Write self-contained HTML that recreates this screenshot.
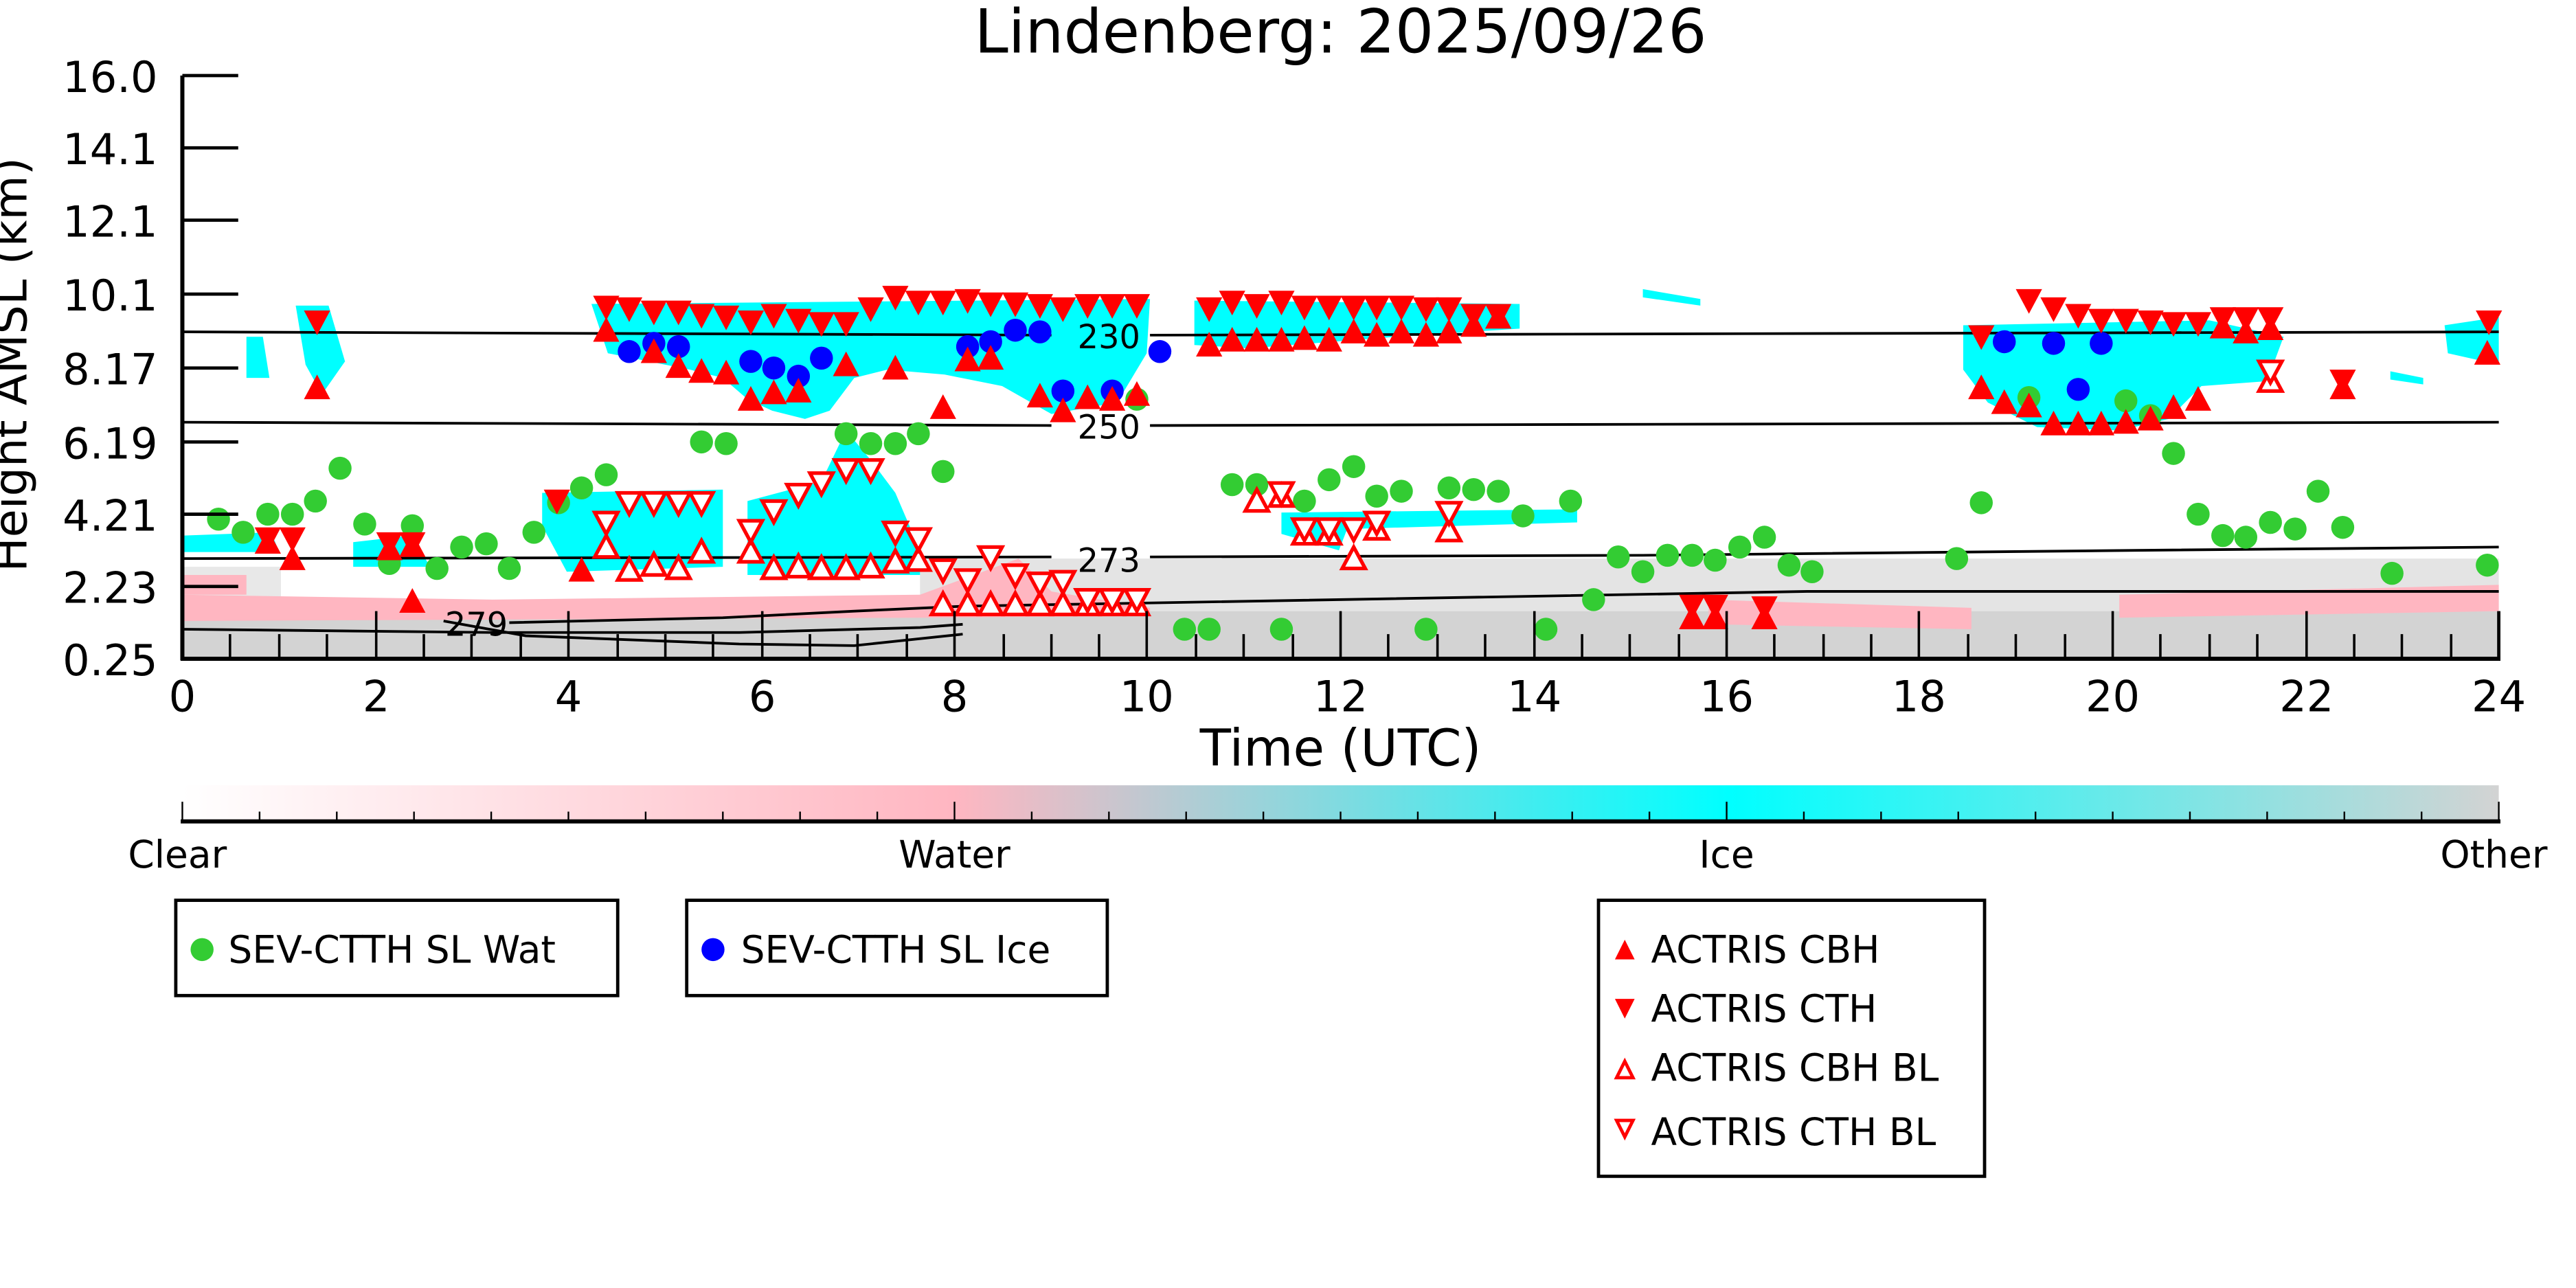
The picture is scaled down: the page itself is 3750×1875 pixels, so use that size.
<!DOCTYPE html>
<html><head><meta charset="utf-8"><style>html,body{margin:0;padding:0;background:#fff}svg{display:block}</style></head>
<body>
<svg width="3750" height="1875" viewBox="0 0 1568 784" xmlns="http://www.w3.org/2000/svg" font-family="'DejaVu Sans','Liberation Sans',sans-serif">
<defs>
<circle id="g" r="7" fill="#33cc33"/>
<circle id="b" r="7" fill="#0000ff"/>
<path id="d" d="M-8,-7 L8,-7 L0,8 Z" fill="#ff0000"/>
<path id="u" d="M-8,7 L8,7 L0,-8 Z" fill="#ff0000"/>
<path id="od" d="M-7,-6 L7,-6 L0,7 Z" fill="#fff" stroke="#ff0000" stroke-width="2.2"/>
<path id="ou" d="M-7,6 L7,6 L0,-7 Z" fill="#fff" stroke="#ff0000" stroke-width="2.2"/>
<linearGradient id="cb" x1="0" x2="1" y1="0" y2="0">
<stop offset="0" stop-color="#ffffff"/><stop offset="0.333" stop-color="#ffb6c1"/><stop offset="0.667" stop-color="#00ffff"/><stop offset="1" stop-color="#d3d3d3"/>
</linearGradient>
</defs>
<text x="816" y="32" font-size="37" text-anchor="middle">Lindenberg: 2025/09/26</text>

<!-- background fields -->
<rect x="560" y="340" width="961" height="32" fill="#e4e4e4"/>
<rect x="111" y="345" width="60" height="27" fill="#e8e8e8"/>
<rect x="111" y="372" width="1410" height="29" fill="#d3d3d3"/>
<polygon points="111,362 300,365 560,362 620,340 640,360 700,370 700,375 560,376 111,378" fill="#ffb6c1"/>
<polygon points="1040,365 1200,370 1200,383 1040,380" fill="#ffb6c1"/>
<polygon points="1290,362 1521,356 1521,372 1290,376" fill="#ffb6c1"/>
<polygon points="111,350 150,350 150,362 111,362" fill="#ffb6c1"/>

<!-- cyan -->
<g fill="#00ffff">
<polygon points="360,185 700,182 698,215 680,245 640,252 610,235 575,228 540,225 520,230 505,250 490,255 470,250 455,243 440,230 420,225 395,220 370,215"/>
<polygon points="727,183 925,185 925,200 850,205 760,212 727,210"/>
<polygon points="1195,198 1345,195 1390,205 1380,232 1340,235 1320,255 1290,262 1240,260 1210,245 1195,225"/>
<polygon points="1488,198 1521,193 1521,222 1490,215"/>
<polygon points="330,300 440,298 440,345 345,348 330,320"/>
<polygon points="455,305 500,293 515,262 530,280 545,300 560,335 560,350 455,350"/>
<polygon points="112,326 165,324 170,336 112,336"/>
<polygon points="180,186 200,186 210,220 196,240 186,222"/>
<polygon points="150,205 160,205 164,230 150,230"/>
<polygon points="780,312 960,310 960,318 820,322 815,335 780,325"/>
<polygon points="215,330 250,326 262,345 215,345"/>
<polygon points="1000,176 1035,182 1035,186 1000,181"/>
<polygon points="1455,226 1475,230 1475,234 1455,231"/>
</g>

<!-- contours -->
<g fill="none" stroke="#000" stroke-width="1.6">
<polyline points="111,202 640,204"/><polyline points="700,204 1521,202"/>
<polyline points="111,257 640,259"/><polyline points="700,259 1521,257"/>
<polyline points="111,340 640,339"/><polyline points="700,339 1000,338 1300,335 1521,333"/>
<polyline points="586,369 1100,360 1521,360"/>
<polyline points="111,383 300,385 450,385 560,382 586,380"/>
<polyline points="310,379 440,376 520,372 586,369"/>
<polyline points="270,378 320,387 450,392 520,393 586,386"/>
</g>
<g font-size="20" text-anchor="middle">
<text x="675" y="212">230</text><text x="675" y="267">250</text><text x="675" y="348">273</text><text x="290" y="387">279</text>
</g>

<!-- markers -->
<g>
<use href="#g" x="133" y="316"/><use href="#g" x="148" y="324"/><use href="#g" x="163" y="313"/><use href="#g" x="178" y="313"/><use href="#g" x="192" y="305"/><use href="#g" x="207" y="285"/><use href="#g" x="222" y="319"/><use href="#g" x="237" y="343"/><use href="#g" x="251" y="320"/><use href="#g" x="266" y="346"/><use href="#g" x="281" y="333"/><use href="#g" x="296" y="331"/><use href="#g" x="310" y="346"/><use href="#g" x="325" y="324"/><use href="#g" x="340" y="306"/><use href="#g" x="354" y="297"/><use href="#g" x="369" y="289"/><use href="#g" x="427" y="269"/><use href="#g" x="442" y="270"/><use href="#g" x="515" y="264"/><use href="#g" x="530" y="270"/><use href="#g" x="545" y="270"/><use href="#g" x="559" y="264"/><use href="#g" x="574" y="287"/><use href="#g" x="692" y="243"/><use href="#g" x="721" y="383"/><use href="#g" x="736" y="383"/><use href="#g" x="750" y="295"/><use href="#g" x="765" y="295"/><use href="#g" x="780" y="383"/><use href="#g" x="794" y="305"/><use href="#g" x="809" y="292"/><use href="#g" x="824" y="284"/><use href="#g" x="838" y="302"/><use href="#g" x="853" y="299"/><use href="#g" x="868" y="383"/><use href="#g" x="882" y="297"/><use href="#g" x="897" y="298"/><use href="#g" x="912" y="299"/><use href="#g" x="927" y="314"/><use href="#g" x="941" y="383"/><use href="#g" x="956" y="305"/><use href="#g" x="970" y="365"/><use href="#g" x="985" y="339"/><use href="#g" x="1000" y="348"/><use href="#g" x="1015" y="338"/><use href="#g" x="1030" y="338"/><use href="#g" x="1044" y="341"/><use href="#g" x="1059" y="333"/><use href="#g" x="1074" y="327"/><use href="#g" x="1089" y="344"/><use href="#g" x="1103" y="348"/><use href="#g" x="1191" y="340"/><use href="#g" x="1206" y="306"/><use href="#g" x="1235" y="242"/><use href="#g" x="1294" y="244"/><use href="#g" x="1309" y="253"/><use href="#g" x="1323" y="276"/><use href="#g" x="1338" y="313"/><use href="#g" x="1353" y="326"/><use href="#g" x="1367" y="327"/><use href="#g" x="1382" y="318"/><use href="#g" x="1397" y="322"/><use href="#g" x="1411" y="299"/><use href="#g" x="1426" y="321"/><use href="#g" x="1456" y="349"/><use href="#g" x="1514" y="344"/>
<use href="#b" x="383" y="214"/><use href="#b" x="398" y="209"/><use href="#b" x="413" y="211"/><use href="#b" x="457" y="220"/><use href="#b" x="471" y="224"/><use href="#b" x="486" y="229"/><use href="#b" x="500" y="218"/><use href="#b" x="589" y="211"/><use href="#b" x="603" y="208"/><use href="#b" x="618" y="201"/><use href="#b" x="633" y="202"/><use href="#b" x="647" y="238"/><use href="#b" x="677" y="238"/><use href="#b" x="706" y="214"/><use href="#b" x="1220" y="208"/><use href="#b" x="1250" y="209"/><use href="#b" x="1265" y="237"/><use href="#b" x="1279" y="209"/>
<use href="#d" x="193" y="196"/><use href="#d" x="163" y="328"/><use href="#d" x="178" y="328"/><use href="#d" x="237" y="331"/><use href="#d" x="251" y="331"/><use href="#d" x="339" y="305"/>
<use href="#d" x="369" y="187"/><use href="#d" x="383" y="188"/><use href="#d" x="398" y="190"/><use href="#d" x="413" y="190"/><use href="#d" x="427" y="192"/><use href="#d" x="442" y="193"/><use href="#d" x="457" y="196"/><use href="#d" x="471" y="192"/><use href="#d" x="486" y="195"/><use href="#d" x="500" y="197"/><use href="#d" x="515" y="197"/><use href="#d" x="530" y="188"/><use href="#d" x="545" y="181"/><use href="#d" x="559" y="184"/><use href="#d" x="574" y="184"/><use href="#d" x="589" y="183"/><use href="#d" x="603" y="185"/><use href="#d" x="618" y="185"/><use href="#d" x="633" y="186"/><use href="#d" x="647" y="188"/><use href="#d" x="662" y="186"/><use href="#d" x="677" y="186"/><use href="#d" x="692" y="186"/>
<use href="#d" x="736" y="188"/><use href="#d" x="750" y="184"/><use href="#d" x="765" y="186"/><use href="#d" x="780" y="184"/><use href="#d" x="794" y="187"/><use href="#d" x="809" y="187"/><use href="#d" x="824" y="187"/><use href="#d" x="838" y="187"/><use href="#d" x="853" y="187"/><use href="#d" x="868" y="188"/><use href="#d" x="882" y="188"/><use href="#d" x="897" y="192"/><use href="#d" x="912" y="192"/>
<use href="#d" x="1206" y="205"/><use href="#d" x="1235" y="183"/><use href="#d" x="1250" y="188"/><use href="#d" x="1265" y="192"/><use href="#d" x="1279" y="195"/><use href="#d" x="1294" y="195"/><use href="#d" x="1309" y="196"/><use href="#d" x="1323" y="197"/><use href="#d" x="1338" y="197"/><use href="#d" x="1353" y="194"/><use href="#d" x="1367" y="194"/><use href="#d" x="1382" y="194"/><use href="#d" x="1426" y="232"/><use href="#d" x="1515" y="196"/>
<use href="#d" x="1030" y="369"/><use href="#d" x="1044" y="369"/><use href="#d" x="1074" y="370"/>
<use href="#u" x="193" y="236"/><use href="#u" x="163" y="330"/><use href="#u" x="178" y="340"/><use href="#u" x="237" y="334"/><use href="#u" x="251" y="332"/><use href="#u" x="251" y="366"/>
<use href="#u" x="369" y="201"/><use href="#u" x="398" y="214"/><use href="#u" x="413" y="223"/><use href="#u" x="427" y="226"/><use href="#u" x="442" y="227"/><use href="#u" x="457" y="243"/><use href="#u" x="471" y="239"/><use href="#u" x="486" y="238"/><use href="#u" x="515" y="222"/><use href="#u" x="545" y="224"/><use href="#u" x="574" y="248"/><use href="#u" x="589" y="219"/><use href="#u" x="603" y="218"/><use href="#u" x="633" y="241"/><use href="#u" x="647" y="250"/><use href="#u" x="662" y="242"/><use href="#u" x="677" y="243"/><use href="#u" x="692" y="240"/><use href="#u" x="354" y="347"/>
<use href="#u" x="736" y="210"/><use href="#u" x="750" y="207"/><use href="#u" x="765" y="207"/><use href="#u" x="780" y="207"/><use href="#u" x="794" y="206"/><use href="#u" x="809" y="207"/><use href="#u" x="824" y="202"/><use href="#u" x="838" y="204"/><use href="#u" x="853" y="202"/><use href="#u" x="868" y="204"/><use href="#u" x="882" y="202"/><use href="#u" x="897" y="198"/><use href="#u" x="912" y="193"/>
<use href="#u" x="1206" y="236"/><use href="#u" x="1220" y="245"/><use href="#u" x="1235" y="247"/><use href="#u" x="1250" y="258"/><use href="#u" x="1265" y="258"/><use href="#u" x="1279" y="258"/><use href="#u" x="1294" y="257"/><use href="#u" x="1309" y="255"/><use href="#u" x="1323" y="248"/><use href="#u" x="1338" y="243"/><use href="#u" x="1353" y="199"/><use href="#u" x="1367" y="202"/><use href="#u" x="1382" y="200"/><use href="#u" x="1426" y="236"/><use href="#u" x="1514" y="215"/>
<use href="#u" x="1030" y="376"/><use href="#u" x="1044" y="376"/><use href="#u" x="1074" y="376"/>
<use href="#ou" x="383" y="347"/><use href="#ou" x="398" y="344"/><use href="#ou" x="413" y="346"/><use href="#ou" x="427" y="336"/><use href="#ou" x="471" y="346"/><use href="#ou" x="486" y="345"/><use href="#ou" x="500" y="346"/><use href="#ou" x="515" y="346"/><use href="#ou" x="530" y="345"/><use href="#ou" x="545" y="342"/><use href="#ou" x="559" y="341"/><use href="#ou" x="457" y="336"/><use href="#ou" x="369" y="333"/>
<use href="#ou" x="574" y="368"/><use href="#ou" x="589" y="368"/><use href="#ou" x="603" y="368"/><use href="#ou" x="618" y="368"/><use href="#ou" x="633" y="368"/><use href="#ou" x="647" y="368"/><use href="#ou" x="662" y="368"/><use href="#ou" x="677" y="368"/><use href="#ou" x="692" y="368"/>
<use href="#ou" x="765" y="305"/><use href="#ou" x="780" y="302"/><use href="#ou" x="824" y="340"/><use href="#ou" x="794" y="325"/><use href="#ou" x="809" y="325"/><use href="#ou" x="838" y="322"/><use href="#ou" x="882" y="323"/><use href="#ou" x="1382" y="232"/>
<use href="#od" x="369" y="318"/><use href="#od" x="383" y="306"/><use href="#od" x="398" y="306"/><use href="#od" x="413" y="306"/><use href="#od" x="427" y="306"/><use href="#od" x="457" y="323"/><use href="#od" x="471" y="311"/><use href="#od" x="486" y="301"/><use href="#od" x="500" y="294"/><use href="#od" x="515" y="286"/><use href="#od" x="530" y="286"/><use href="#od" x="545" y="324"/><use href="#od" x="559" y="328"/><use href="#od" x="574" y="347"/><use href="#od" x="589" y="353"/><use href="#od" x="603" y="339"/><use href="#od" x="618" y="350"/><use href="#od" x="633" y="355"/><use href="#od" x="647" y="354"/><use href="#od" x="662" y="365"/><use href="#od" x="677" y="365"/><use href="#od" x="692" y="365"/>
<use href="#od" x="780" y="300"/><use href="#od" x="794" y="322"/><use href="#od" x="809" y="322"/><use href="#od" x="824" y="322"/><use href="#od" x="838" y="318"/><use href="#od" x="882" y="312"/><use href="#od" x="1382" y="226"/>
</g>

<!-- axes -->
<g stroke="#000" fill="none">
<line x1="111" y1="46" x2="111" y2="402" stroke-width="2.5"/>
<line x1="110" y1="401" x2="1522" y2="401" stroke-width="2.5"/>
<line x1="1521" y1="372" x2="1521" y2="402" stroke-width="2"/>
<g stroke-width="2">
<line x1="111" y1="46" x2="145" y2="46"/><line x1="111" y1="90" x2="145" y2="90"/><line x1="111" y1="134" x2="145" y2="134"/><line x1="111" y1="179" x2="145" y2="179"/><line x1="111" y1="224" x2="145" y2="224"/><line x1="111" y1="269" x2="145" y2="269"/><line x1="111" y1="313" x2="145" y2="313"/><line x1="111" y1="357" x2="145" y2="357"/>
</g>
<g stroke-width="1.5">
<path d="M229,372V401M346,372V401M464,372V401M581,372V401M698,372V401M816,372V401M934,372V401M1051,372V401M1168,372V401M1286,372V401M1404,372V401"/>
<path d="M140,386V401M170,386V401M199,386V401M258,386V401M287,386V401M317,386V401M376,386V401M405,386V401M434,386V401M493,386V401M522,386V401M552,386V401M611,386V401M640,386V401M669,386V401M728,386V401M757,386V401M787,386V401M845,386V401M875,386V401M904,386V401M963,386V401M992,386V401M1022,386V401M1080,386V401M1110,386V401M1139,386V401M1198,386V401M1227,386V401M1257,386V401M1315,386V401M1345,386V401M1374,386V401M1433,386V401M1462,386V401M1492,386V401"/>
</g>
</g>
<g font-size="26" text-anchor="end">
<text x="96" y="56">16.0</text><text x="96" y="100">14.1</text><text x="96" y="144">12.1</text><text x="96" y="189">10.1</text><text x="96" y="234">8.17</text><text x="96" y="279">6.19</text><text x="96" y="323">4.21</text><text x="96" y="367">2.23</text><text x="96" y="411">0.25</text>
</g>
<text transform="translate(16,222) rotate(-90)" font-size="28" text-anchor="middle">Height AMSL (km)</text>
<g font-size="26" text-anchor="middle">
<text x="111" y="433">0</text><text x="229" y="433">2</text><text x="346" y="433">4</text><text x="464" y="433">6</text><text x="581" y="433">8</text><text x="698" y="433">10</text><text x="816" y="433">12</text><text x="934" y="433">14</text><text x="1051" y="433">16</text><text x="1168" y="433">18</text><text x="1286" y="433">20</text><text x="1404" y="433">22</text><text x="1521" y="433">24</text>
</g>
<text x="816" y="466" font-size="31" text-anchor="middle">Time (UTC)</text>

<!-- colorbar -->
<rect x="111" y="478" width="1410" height="22" fill="url(#cb)"/>
<g stroke="#000">
<line x1="110" y1="500" x2="1522" y2="500" stroke-width="2.5"/>
<path stroke-width="1" d="M111,488V500M581,488V500M1051,488V500M1521,488V500"/>
<path stroke-width="1" d="M158,494V500M205,494V500M252,494V500M299,494V500M346,494V500M393,494V500M440,494V500M487,494V500M534,494V500M628,494V500M675,494V500M722,494V500M769,494V500M816,494V500M863,494V500M910,494V500M957,494V500M1004,494V500M1098,494V500M1145,494V500M1192,494V500M1239,494V500M1286,494V500M1333,494V500M1380,494V500M1427,494V500M1474,494V500"/>
</g>
<g font-size="23" text-anchor="middle">
<text x="108" y="528">Clear</text><text x="581" y="528">Water</text><text x="1051" y="528">Ice</text><text x="1518" y="528">Other</text>
</g>

<!-- legends -->
<g fill="none" stroke="#000" stroke-width="2">
<rect x="107" y="548" width="269" height="58"/>
<rect x="418" y="548" width="256" height="58"/>
<rect x="973" y="548" width="235" height="168"/>
</g>
<circle cx="123" cy="578" r="7" fill="#33cc33"/>
<circle cx="434" cy="578" r="7" fill="#0000ff"/>
<g font-size="23">
<text x="139" y="586">SEV-CTTH SL Wat</text>
<text x="451" y="586">SEV-CTTH SL Ice</text>
<text x="1005" y="586">ACTRIS CBH</text>
<text x="1005" y="622">ACTRIS CTH</text>
<text x="1005" y="658">ACTRIS CBH BL</text>
<text x="1005" y="697">ACTRIS CTH BL</text>
</g>
<path d="M983,584 L995,584 L989,572 Z" fill="#f00"/>
<path d="M983,608 L995,608 L989,620 Z" fill="#f00"/>
<path d="M984,656 L994,656 L989,646 Z" fill="#fff" stroke="#f00" stroke-width="2"/>
<path d="M984,682 L994,682 L989,692 Z" fill="#fff" stroke="#f00" stroke-width="2"/>
</svg>
</body></html>
